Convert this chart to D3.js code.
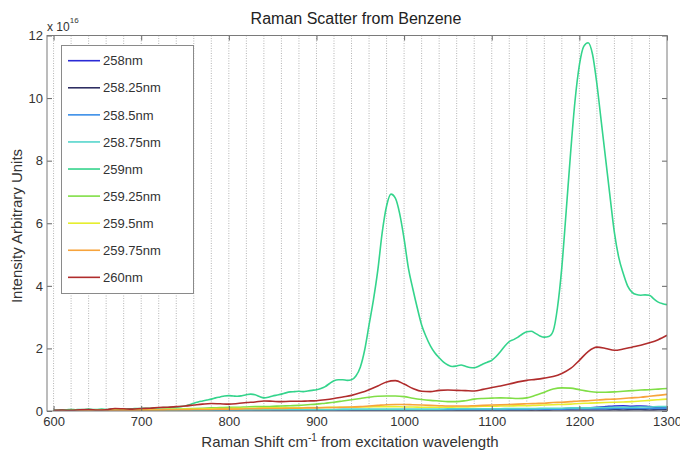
<!DOCTYPE html>
<html>
<head>
<meta charset="utf-8" />
<script src="https://d3js.org/d3.v7.min.js"></script>
<style>
  body { margin: 0; background: #fff; }
  svg text { font-family: "Liberation Sans", Arial, sans-serif; fill: #222; }
  .grid line { stroke: #b4b4b4; stroke-dasharray: 1,1.5; }
  .frame { fill: none; stroke: #7a7a7a; }
  .axis path { display: none; }
  .axis line { stroke: #666; }
  .axis text { font-size: 13px; fill: #333; }
  .trace { fill: none; stroke-width: 1.6; stroke-linejoin: round; }
  .legend rect { fill: #fff; stroke: #8a8a8a; }
  .legend text { font-size: 13px; fill: #333; }
</style>
</head>
<body>
<svg width="680" height="451"></svg>
<script>
// sampling of the spectra (Raman shift, cm^-1)
var shiftFine = d3.range(600, 1301, 5);    // 259nm trace
var shiftCoarse = d3.range(600, 1301, 10); // all other traces

var wavelengths = ["258nm", "258.25nm", "258.5nm", "258.75nm", "259nm",
                   "259.25nm", "259.5nm", "259.75nm", "260nm"];
var colors = ["#2a2ad6", "#2e2e62", "#3a8ee8", "#55d6cc", "#34d48c",
              "#80de46", "#e6ee2e", "#f7a43c", "#b02c2c"];

// intensities, units of 1e16
var i258 = [0.00,0.01,0.00,0.01,0.01,0.00,0.01,0.01,0.00,0.01,
            0.01,0.01,0.00,0.01,0.01,0.01,0.00,0.01,0.01,0.01,
            0.01,0.01,0.01,0.02,0.01,0.01,0.02,0.01,0.02,0.02,
            0.02,0.01,0.02,0.02,0.02,0.02,0.03,0.02,0.02,0.03,
            0.03,0.02,0.03,0.03,0.02,0.03,0.03,0.04,0.03,0.03,
            0.04,0.03,0.04,0.04,0.05,0.04,0.05,0.06,0.07,0.08,
            0.09,0.10,0.12,0.14,0.16,0.17,0.15,0.16,0.14,0.12,
            0.11];
var i25825 = [0.00,0.00,0.01,0.00,0.01,0.00,0.01,0.01,0.00,0.01,
              0.01,0.00,0.01,0.01,0.01,0.01,0.01,0.01,0.01,0.01,
              0.01,0.01,0.01,0.01,0.01,0.01,0.01,0.02,0.01,0.01,
              0.02,0.01,0.02,0.01,0.02,0.02,0.02,0.02,0.01,0.02,
              0.02,0.02,0.02,0.02,0.02,0.02,0.02,0.02,0.02,0.02,
              0.02,0.02,0.02,0.02,0.02,0.03,0.02,0.03,0.03,0.03,
              0.03,0.03,0.03,0.03,0.04,0.03,0.04,0.04,0.03,0.04,
              0.04];
var i2585 = [0.00,0.01,0.01,0.01,0.01,0.01,0.01,0.01,0.01,0.01,
             0.01,0.01,0.01,0.02,0.02,0.02,0.02,0.02,0.02,0.02,
             0.02,0.02,0.02,0.03,0.03,0.03,0.03,0.03,0.03,0.03,
             0.03,0.03,0.03,0.03,0.04,0.04,0.04,0.04,0.04,0.04,
             0.04,0.04,0.04,0.04,0.04,0.04,0.05,0.05,0.05,0.05,
             0.05,0.05,0.05,0.05,0.05,0.06,0.06,0.06,0.06,0.07,
             0.07,0.07,0.07,0.07,0.08,0.08,0.08,0.08,0.08,0.08,
             0.09];
var i25875 = [0.01,0.01,0.01,0.01,0.02,0.02,0.02,0.02,0.02,0.02,
              0.02,0.02,0.03,0.03,0.03,0.03,0.03,0.03,0.04,0.04,
              0.04,0.04,0.04,0.04,0.04,0.05,0.05,0.05,0.05,0.05,
              0.05,0.05,0.05,0.06,0.06,0.06,0.06,0.06,0.06,0.06,
              0.06,0.06,0.06,0.06,0.06,0.07,0.07,0.07,0.07,0.07,
              0.07,0.07,0.08,0.08,0.08,0.08,0.09,0.09,0.09,0.10,
              0.10,0.10,0.11,0.11,0.12,0.12,0.12,0.13,0.13,0.14,
              0.14];
var i259 = [0.03,0.03,0.04,0.04,0.05,0.04,0.05,0.05,0.06,0.05,0.05,0.06,0.05,0.06,0.07,0.06,0.06,0.07,0.07,0.08,
            0.08,0.09,0.09,0.10,0.10,0.11,0.11,0.12,0.13,0.14,0.16,0.20,0.25,0.29,0.32,0.35,0.38,0.42,0.45,0.48,
            0.49,0.48,0.47,0.49,0.52,0.54,0.52,0.46,0.42,0.44,0.48,0.51,0.54,0.58,0.61,0.62,0.63,0.62,0.64,0.66,
            0.68,0.72,0.78,0.88,0.97,1.00,1.00,0.98,1.00,1.12,1.40,1.95,2.75,3.55,4.50,5.70,6.55,6.93,6.80,6.30,
            5.50,4.55,3.90,3.30,2.75,2.38,2.08,1.86,1.70,1.56,1.47,1.42,1.44,1.47,1.43,1.39,1.38,1.43,1.50,1.56,
            1.62,1.74,1.90,2.08,2.22,2.28,2.36,2.46,2.53,2.55,2.48,2.40,2.36,2.38,2.55,3.30,4.60,6.40,8.25,9.90,
            11.05,11.65,11.77,11.40,10.45,9.25,8.05,6.85,5.70,4.90,4.40,4.00,3.80,3.72,3.70,3.71,3.70,3.58,3.48,3.43,
            3.40];
var i25925 = [0.01,0.01,0.02,0.02,0.02,0.02,0.03,0.03,0.03,0.04,
              0.04,0.05,0.05,0.06,0.06,0.07,0.08,0.09,0.10,0.11,
              0.12,0.12,0.13,0.14,0.14,0.15,0.16,0.17,0.18,0.20,
              0.22,0.25,0.28,0.32,0.36,0.40,0.44,0.47,0.48,0.48,
              0.46,0.41,0.37,0.34,0.32,0.30,0.30,0.33,0.38,0.40,
              0.41,0.42,0.41,0.40,0.42,0.50,0.60,0.70,0.74,0.73,
              0.68,0.63,0.60,0.60,0.61,0.63,0.65,0.67,0.68,0.70,
              0.72];
var i2595 = [0.00,0.01,0.01,0.01,0.01,0.02,0.02,0.02,0.02,0.03,
             0.03,0.04,0.04,0.05,0.05,0.06,0.06,0.07,0.07,0.08,
             0.08,0.09,0.09,0.09,0.10,0.10,0.10,0.10,0.10,0.11,
             0.11,0.11,0.12,0.12,0.12,0.13,0.13,0.14,0.14,0.14,
             0.13,0.13,0.12,0.12,0.12,0.12,0.13,0.13,0.14,0.15,
             0.15,0.16,0.16,0.17,0.17,0.18,0.19,0.20,0.21,0.22,
             0.24,0.25,0.26,0.27,0.28,0.29,0.30,0.32,0.34,0.36,
             0.38];
var i25975 = [0.00,0.00,0.01,0.01,0.01,0.01,0.02,0.02,0.02,0.02,
              0.03,0.03,0.03,0.04,0.04,0.04,0.05,0.05,0.05,0.06,
              0.06,0.06,0.07,0.07,0.08,0.08,0.08,0.09,0.09,0.10,
              0.10,0.11,0.11,0.12,0.13,0.14,0.16,0.18,0.20,0.21,
              0.21,0.20,0.19,0.18,0.17,0.16,0.16,0.16,0.17,0.18,
              0.19,0.20,0.21,0.22,0.23,0.24,0.25,0.27,0.28,0.30,
              0.32,0.33,0.35,0.37,0.38,0.40,0.42,0.44,0.47,0.50,
              0.53];
var i260 = [0.02,0.03,0.02,0.04,0.05,0.03,0.04,0.08,0.07,0.06,
            0.08,0.09,0.11,0.12,0.14,0.16,0.19,0.22,0.24,0.23,
            0.22,0.24,0.27,0.29,0.32,0.31,0.30,0.31,0.31,0.32,
            0.33,0.36,0.40,0.45,0.50,0.58,0.68,0.80,0.93,0.97,
            0.86,0.72,0.63,0.62,0.66,0.67,0.66,0.65,0.64,0.69,
            0.75,0.80,0.86,0.93,0.98,1.01,1.05,1.10,1.20,1.36,
            1.62,1.90,2.04,2.00,1.94,1.98,2.04,2.10,2.18,2.28,
            2.42];

var xTicks = [600, 700, 800, 900, 1000, 1100, 1200, 1300];
var yTicks = [0, 2, 4, 6, 8, 10, 12];
var gridShifts = d3.range(600, 1300, 20);

var traces = [
  { name: wavelengths[0], color: colors[0], xs: shiftCoarse, ys: i258 },
  { name: wavelengths[1], color: colors[1], xs: shiftCoarse, ys: i25825 },
  { name: wavelengths[2], color: colors[2], xs: shiftCoarse, ys: i2585 },
  { name: wavelengths[3], color: colors[3], xs: shiftCoarse, ys: i25875 },
  { name: wavelengths[4], color: colors[4], xs: shiftFine,   ys: i259 },
  { name: wavelengths[5], color: colors[5], xs: shiftCoarse, ys: i25925 },
  { name: wavelengths[6], color: colors[6], xs: shiftCoarse, ys: i2595 },
  { name: wavelengths[7], color: colors[7], xs: shiftCoarse, ys: i25975 },
  { name: wavelengths[8], color: colors[8], xs: shiftCoarse, ys: i260 }
];

var svg = d3.select("svg");
var plotLeft = 47, plotRight = 667, plotTop = 35.5, plotBottom = 411;

var x = d3.scaleLinear().domain([592.5, 1300]).range([plotLeft, plotRight]);
var y = d3.scaleLinear().domain([0, 12]).range([plotBottom, plotTop]);

// dotted vertical grid every 20 cm^-1
svg.append("g").attr("class", "grid")
  .selectAll("line").data(gridShifts).enter().append("line")
  .attr("x1", function(d) { return x(d); })
  .attr("x2", function(d) { return x(d); })
  .attr("y1", plotTop).attr("y2", plotBottom);

svg.append("clipPath").attr("id", "plotClip")
  .append("rect").attr("x", plotLeft).attr("y", plotTop)
  .attr("width", plotRight - plotLeft).attr("height", plotBottom - plotTop);

var line = d3.line().curve(d3.curveMonotoneX);

svg.append("g").attr("clip-path", "url(#plotClip)")
  .selectAll("path").data(traces).enter().append("path")
  .attr("class", "trace")
  .attr("stroke", function(d) { return d.color; })
  .attr("stroke-width", function(d) { return d.name == "259nm" ? 2 : 1.6; })
  .attr("d", function(d) {
    return line(d.ys.map(function(v, i) { return [x(d.xs[i]), y(v)]; }));
  });

// axes, ticks pointing inward
svg.append("g").attr("class", "axis")
  .attr("transform", "translate(0," + plotBottom + ")")
  .call(d3.axisBottom(x).tickValues(xTicks).tickSize(-5).tickPadding(6).tickFormat(d3.format("d")));
svg.append("g").attr("class", "axis")
  .attr("transform", "translate(0," + plotTop + ")")
  .call(d3.axisTop(x).tickValues(xTicks).tickSize(-5).tickFormat(""));
svg.append("g").attr("class", "axis")
  .attr("transform", "translate(" + plotLeft + ",0)")
  .call(d3.axisLeft(y).tickValues(yTicks).tickSize(-5).tickPadding(4));
svg.append("g").attr("class", "axis")
  .attr("transform", "translate(" + plotRight + ",0)")
  .call(d3.axisRight(y).tickValues(yTicks).tickSize(-5).tickFormat(""));

svg.append("rect").attr("class", "frame")
  .attr("x", plotLeft).attr("y", plotTop)
  .attr("width", plotRight - plotLeft).attr("height", plotBottom - plotTop);

// exponent label
var expo = svg.append("text").attr("x", 47).attr("y", 31).style("font-size", "12px").style("fill", "#333");
expo.append("tspan").text("x 10");
expo.append("tspan").attr("dy", -8).style("font-size", "8px").text("16");

// titles
svg.append("text").attr("x", 356).attr("y", 24).attr("text-anchor", "middle")
  .style("font-size", "16px").text("Raman Scatter from Benzene");

var xl = svg.append("text").attr("x", 350).attr("y", 447).attr("text-anchor", "middle")
  .style("font-size", "15px").style("fill", "#333");
xl.append("tspan").text("Raman Shift cm");
xl.append("tspan").attr("dy", -6).style("font-size", "10px").text("-1");
xl.append("tspan").attr("dy", 6).text(" from excitation wavelength");

svg.append("text")
  .attr("transform", "translate(22,226) rotate(-90)")
  .attr("text-anchor", "middle")
  .style("font-size", "15px").style("fill", "#333")
  .text("Intensity Arbitrary Units");

// legend
var legend = svg.append("g").attr("class", "legend");
legend.append("rect").attr("x", 61.5).attr("y", 45.5).attr("width", 132).attr("height", 248);
var rows = legend.selectAll("g.row").data(traces).enter().append("g")
  .attr("class", "row")
  .attr("transform", function(d, i) { return "translate(0," + (60.7 + i * 27.08) + ")"; });
rows.append("line").attr("x1", 68).attr("x2", 100)
  .attr("stroke", function(d) { return d.color; }).attr("stroke-width", 1.6);
rows.append("text").attr("x", 103).attr("dy", "0.36em").text(function(d) { return d.name; });
</script>
</body>
</html>
